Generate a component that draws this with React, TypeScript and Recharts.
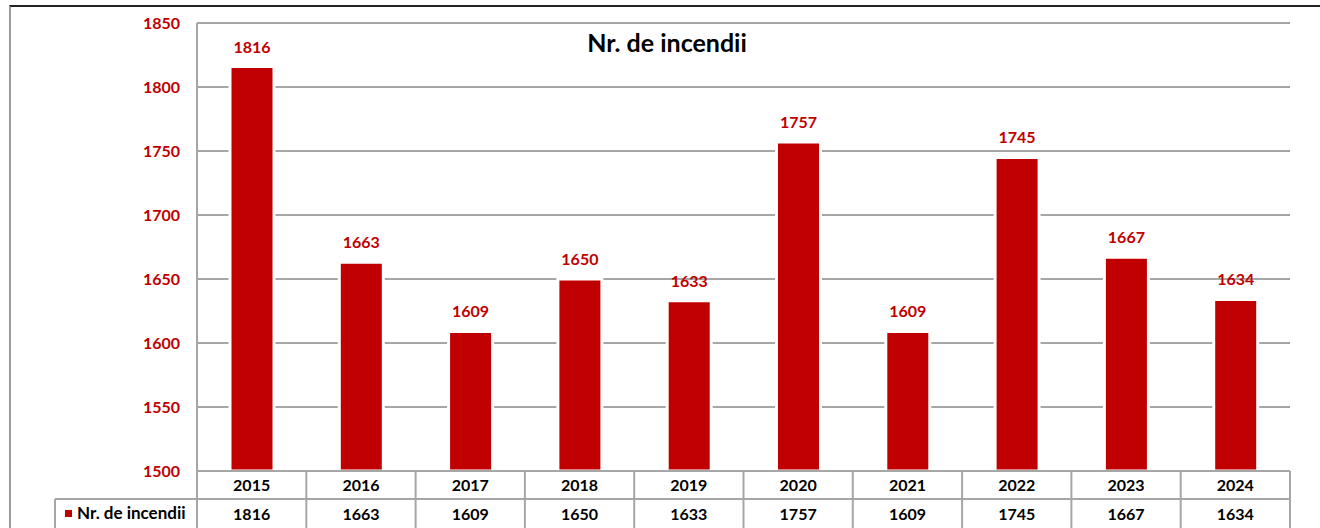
import React from 'react'
import { BarChart, Bar, XAxis, YAxis, CartesianGrid, LabelList } from 'recharts'

const years = ['2015', '2016', '2017', '2018', '2019', '2020', '2021', '2022', '2023', '2024']
const fires = [1816, 1663, 1609, 1650, 1633, 1757, 1609, 1745, 1667, 1634]
const yTicks = [1500, 1550, 1600, 1650, 1700, 1750, 1800, 1850]
const seriesName = 'Nr. de incendii'

const data = years.map((year, i) => ({ year, fires: fires[i] }))

const W = 1320
const H = 528
const Y_AXIS_W = 197
const MARGIN_R = 30
const RED = '#c00000'
const LINE = '#a6a6a6'
const FONT = 'Lato, "Open Sans", sans-serif'
const ROW_H = 28
const LEGEND_W = 142

const colW = (W - Y_AXIS_W - MARGIN_R) / years.length

function TableTick(props: any) {
  const { x, y, payload, index } = props
  const left = x - colW / 2
  const right = x + colW / 2
  const value = fires[index]
  return (
    <g>
      <line x1={right} y1={y} x2={right} y2={H} stroke={LINE} strokeWidth={2} />
      <line x1={left} y1={y + ROW_H} x2={right} y2={y + ROW_H} stroke={LINE} strokeWidth={2} />
      {index === 0 && (
        <g>
          <line x1={left} y1={y} x2={left} y2={H} stroke={LINE} strokeWidth={2} />
          <line x1={left - LEGEND_W} y1={y + ROW_H} x2={left} y2={y + ROW_H} stroke={LINE} strokeWidth={2} />
          <line x1={left - LEGEND_W} y1={y + ROW_H} x2={left - LEGEND_W} y2={H} stroke={LINE} strokeWidth={2} />
          <rect x={left - LEGEND_W + 10} y={y + ROW_H + 11} width={7} height={7} fill={RED} />
          <text x={left - LEGEND_W + 22} y={y + ROW_H + 20} fontFamily={FONT} fontSize={17} fontWeight={700} fill="#000">
            {seriesName}
          </text>
        </g>
      )}
      <text x={x} y={y + 20} textAnchor="middle" fontFamily={FONT} fontSize={16} fontWeight={700} fill="#000">
        {payload.value}
      </text>
      <text x={x} y={y + ROW_H + 21} textAnchor="middle" fontFamily={FONT} fontSize={16} fontWeight={700} fill="#000">
        {value}
      </text>
    </g>
  )
}

export default function App() {
  return (
    <div style={{ position: 'absolute', left: 0, top: 0, width: W, height: H, background: '#fff', overflow: 'hidden' }}>
      <div
        style={{
          position: 'absolute',
          left: 9,
          top: 5,
          width: W + 10,
          height: H,
          borderTop: '2px solid #222',
          borderLeft: '2px solid #999',
          boxSizing: 'border-box',
        }}
      />
      <div
        style={{
          position: 'absolute',
          left: 0,
          width: 1334,
          top: 27,
          textAlign: 'center',
          fontFamily: FONT,
          fontWeight: 700,
          fontSize: 25,
          color: '#000',
        }}
      >
        {seriesName}
      </div>
      <BarChart
        width={W}
        height={H}
        data={data}
        margin={{ top: 23, right: MARGIN_R, left: 0, bottom: 0 }}
        barCategoryGap={0}
        style={{ position: 'absolute', left: 0, top: 0 }}
      >
        <CartesianGrid vertical={false} stroke={LINE} strokeWidth={2} />
        <XAxis
          dataKey="year"
          height={H - 471}
          tickLine={false}
          tickSize={0}
          tickMargin={0}
          axisLine={{ stroke: LINE, strokeWidth: 2 }}
          interval={0}
          tick={<TableTick />}
        />
        <YAxis
          width={Y_AXIS_W}
          domain={[1500, 1850]}
          ticks={yTicks}
          interval={0}
          tickLine={false}
          tickSize={0}
          tickMargin={17}
          axisLine={{ stroke: LINE, strokeWidth: 2 }}
          tick={{ fill: RED, fontSize: 16, fontWeight: 700, fontFamily: FONT }}
          allowDataOverflow
        />
        <Bar dataKey="fires" fill={RED} barSize={44} stroke="#fff" strokeWidth={3} isAnimationActive={false}>
          <LabelList
            dataKey="fires"
            position="top"
            offset={14}
            fill={RED}
            fontSize={16}
            fontWeight={700}
            fontFamily={FONT}
          />
        </Bar>
      </BarChart>
    </div>
  )
}
